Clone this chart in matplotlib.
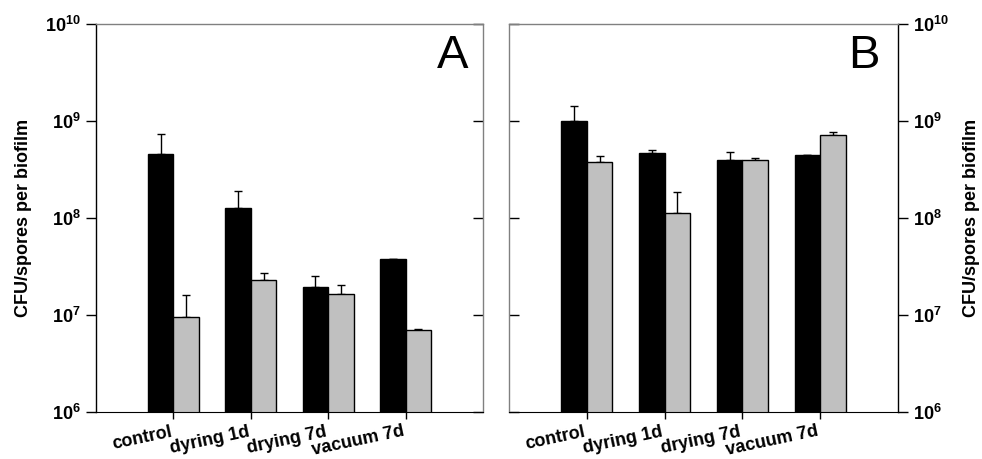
import numpy as np
import matplotlib
matplotlib.use('Agg')
import matplotlib.pyplot as plt
from matplotlib.ticker import FixedLocator, NullLocator

plt.rcParams['font.family'] = ['Liberation Sans', 'DejaVu Sans']
plt.rcParams['mathtext.fontset'] = 'custom'
plt.rcParams['mathtext.rm'] = 'Liberation Sans:bold'
plt.rcParams['mathtext.bf'] = 'Liberation Sans:bold'
plt.rcParams['mathtext.it'] = 'Liberation Sans:bold'

categories = ['control', 'dyring 1d', 'drying 7d', 'vacuum 7d']

# panel A
a_black = [4.6e8, 1.28e8, 1.95e7, 3.76e7]
a_black_err = [2.7e8, 0.64e8, 0.60e7, 0.04e7]
a_gray = [9.5e6, 2.32e7, 1.63e7, 6.96e6]
a_gray_err = [6.5e6, 0.40e7, 0.41e7, 0.29e6]

# panel B
b_black = [1.01e9, 4.67e8, 3.92e8, 4.45e8]
b_black_err = [0.43e9, 0.38e8, 0.82e8, 0.05e8]
b_gray = [3.77e8, 1.13e8, 3.95e8, 7.21e8]
b_gray_err = [0.61e8, 0.74e8, 0.23e8, 0.41e8]

decades = [1e6, 1e7, 1e8, 1e9, 1e10]
decade_labels = [r'$\mathbf{10^{%d}}$' % int(np.log10(d)) for d in decades]

BLACK = '#000000'
GRAY = '#c0c0c0'
SPINE_GRAY = '#808080'
width = 0.33


def draw_panel(ax, black, black_err, gray, gray_err, letter, side):
    x = np.arange(1, len(categories) + 1)
    ax.bar(x - width / 2, black, width, color=BLACK, edgecolor='black', linewidth=1.0, zorder=2)
    ax.bar(x + width / 2, gray, width, color=GRAY, edgecolor='black', linewidth=1.0, zorder=2)
    ax.errorbar(x - width / 2, black, yerr=[np.zeros(len(x)), black_err], fmt='none',
                ecolor='black', elinewidth=1.0, capsize=3, capthick=1.0, zorder=1)
    ax.errorbar(x + width / 2, gray, yerr=[np.zeros(len(x)), gray_err], fmt='none',
                ecolor='black', elinewidth=1.0, capsize=3, capthick=1.0, zorder=1)

    ax.set_yscale('log')
    ax.set_ylim(1e6, 1e10)
    ax.set_xlim(0, 5)

    ax.set_xticks(x)
    ax.set_xticklabels(categories, rotation=12, ha='right', fontsize=13, fontweight='bold')
    ax.tick_params(axis='x', direction='out', length=5, width=1, pad=3)

    ax.yaxis.set_major_locator(FixedLocator(decades))
    ax.yaxis.set_minor_locator(NullLocator())
    ax.set_yticklabels(decade_labels, fontsize=13)

    for s in ['top', 'left', 'right']:
        ax.spines[s].set_color(SPINE_GRAY)
        ax.spines[s].set_linewidth(1.0)
    ax.spines['bottom'].set_color('black')
    ax.spines[side].set_color('black')

    if side == 'left':
        ax.tick_params(axis='y', which='major', left=True, right=True, labelleft=True,
                       labelright=False, direction='out', length=7, width=1, pad=4)
        ax.set_ylabel('CFU/spores per biofilm', fontsize=13, fontweight='bold', labelpad=9)
    else:
        ax.yaxis.set_label_position('right')
        ax.tick_params(axis='y', which='major', left=True, right=True, labelleft=False,
                       labelright=True, direction='out', length=7, width=1, pad=4)
        ax.set_ylabel('CFU/spores per biofilm', fontsize=13, fontweight='bold', labelpad=10,
                      rotation=90)

    # inner-side ticks point inward in gray
    for tl in ax.yaxis.get_major_ticks():
        if side == 'left':
            tl.tick2line.set_marker(matplotlib.lines.TICKLEFT)
            tl.tick2line.set_color(SPINE_GRAY)
        else:
            tl.tick1line.set_marker(matplotlib.lines.TICKRIGHT)
            tl.tick1line.set_color(SPINE_GRAY)

    ax.text(0.962 if side == 'left' else 0.952, 0.975, letter, transform=ax.transAxes,
            ha='right', va='top', fontsize=34)


fig = plt.figure(figsize=(9.82, 4.59), dpi=100)
ax1 = fig.add_axes([96 / 982, 47 / 459, 387 / 982, 388 / 459])
ax2 = fig.add_axes([509 / 982, 47 / 459, 389 / 982, 388 / 459])

draw_panel(ax1, a_black, a_black_err, a_gray, a_gray_err, 'A', 'left')
draw_panel(ax2, b_black, b_black_err, b_gray, b_gray_err, 'B', 'right')

plt.savefig('out.png', dpi=100)
